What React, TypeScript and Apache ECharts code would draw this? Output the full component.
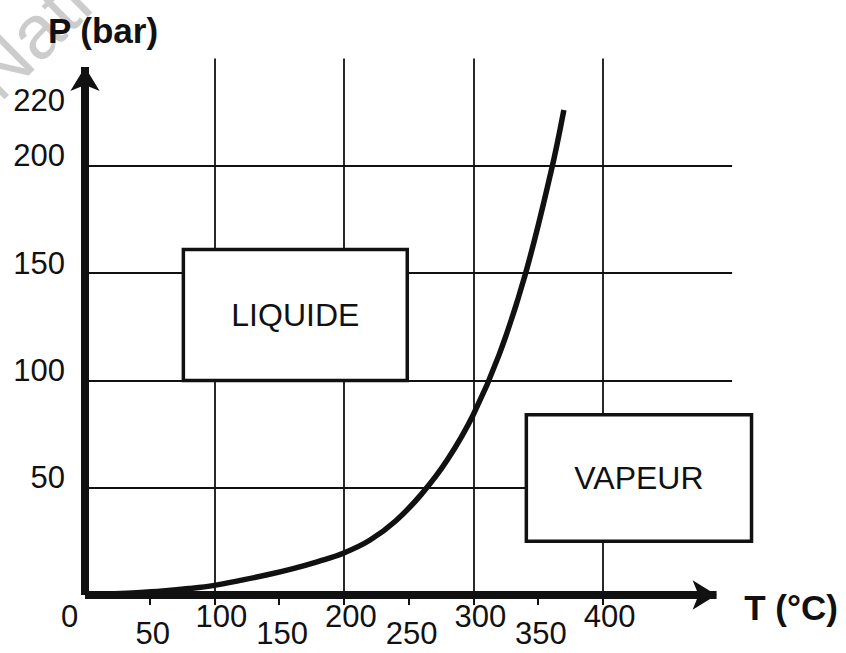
import React, { useEffect, useRef } from 'react';
import * as echarts from 'echarts';

// Saturation curve of water
const temperatures = [0, 20, 40, 60, 80, 100, 120, 140, 160, 180, 200, 220, 240, 260, 280, 300, 320, 340, 360, 370];
const pressures = [0, 0.5, 1.1, 1.9, 3.0, 4.5, 6.8, 9.3, 12.2, 15.6, 19.6, 25.5, 34.5, 47, 63, 84, 112, 149, 197, 226];

// Tick labels (upper row / lower row on the T axis)
const xUpperLabels = [0, 100, 200, 300, 400];
const xLowerLabels = [50, 150, 250, 350];
const yTickLabels = [50, 100, 150, 200, 220];

// Grid lines (values)
const xGridValues = [100, 200, 300, 400];
const yGridValues = [50, 100, 150, 200];

// Phase regions
const regionNames = ['LIQUIDE', 'VAPEUR'];
const regionT = [[76, 249], [341, 515]];
const regionP = [[100, 161], [25, 84]];

const FONT = '"Liberation Sans", Arial, Helvetica, sans-serif';
const INK = '#111';

export default function App() {
  const ref = useRef<HTMLDivElement>(null);

  useEffect(() => {
    if (!ref.current) return;
    const chart = echarts.init(ref.current, null, { renderer: 'svg' });

    const gridLines: any[] = [];
    xGridValues.forEach((v) => gridLines.push([{ coord: [v, 0] }, { coord: [v, 250] }]));
    yGridValues.forEach((v) => gridLines.push([{ coord: [0, v] }, { coord: [500, v] }]));

    const areas = regionNames.map((n, i) => [
      { name: n, coord: [regionT[i][0], regionP[i][1]] },
      { coord: [regionT[i][1], regionP[i][0]] },
    ]);

    const textBase = { fontFamily: FONT, fontSize: 31, color: INK };
    const allTicks = [...xUpperLabels, ...xLowerLabels].filter((v) => v > 0).sort((a, b) => a - b);

    const option: any = {
      animation: false,
      backgroundColor: '#fff',
      grid: { left: 85, right: 88, top: 37, bottom: 58, containLabel: false },
      xAxis: [
        {
          type: 'value',
          min: 0,
          max: 520,
          axisLine: { show: false },
          splitLine: { show: false },
          axisTick: {
            show: true,
            customValues: allTicks,
            length: 10,
            lineStyle: { color: INK, width: 2 },
          },
          axisLabel: {
            customValues: xUpperLabels,
            margin: 6,
            ...textBase,
            formatter: (v: number) => (v === 0 ? '{z|0}' : `{h|${v}}`),
            rich: {
              z: { ...textBase, padding: [0, 31, 0, 0] },
              h: { ...textBase, padding: [0, 0, 0, 14] },
            },
          },
        },
        {
          type: 'value',
          min: 0,
          max: 520,
          position: 'bottom',
          axisLine: { show: false },
          splitLine: { show: false },
          axisTick: { show: false },
          axisLabel: {
            customValues: xLowerLabels,
            margin: 26,
            ...textBase,
            lineHeight: 24,
            padding: [0, 0, 0, 6],
          },
        },
      ],
      yAxis: {
        type: 'value',
        min: 0,
        max: 260,
        axisLine: { show: false },
        splitLine: { show: false },
        axisTick: { show: false },
        axisLabel: {
          customValues: yTickLabels,
          margin: 20,
          ...textBase,
          verticalAlign: 'bottom',
          formatter: (v: number) => (v === 220 ? `{t|${v}}` : `{n|${v}}`),
          rich: {
            n: { ...textBase, lineHeight: 20, padding: [0, 0, 0, 0] },
            t: { ...textBase, lineHeight: 20, padding: [0, 0, 24, 0] },
          },
        },
      },
      graphic: [
        {
          type: 'text',
          x: 8,
          y: 112,
          rotation: 0.78,
          z: -1,
          style: {
            text: 'Nati',
            fontFamily: '"Liberation Sans", Arial, sans-serif',
            fontSize: 76,
            fontWeight: 'normal',
            fill: '#cccccc',
            align: 'left',
            verticalAlign: 'bottom',
          },
        },
        {
          type: 'text',
          x: 103,
          y: 30,
          style: {
            text: 'P (bar)',
            fontFamily: FONT,
            fontSize: 35,
            fontWeight: 'bold',
            fill: INK,
            align: 'center',
            verticalAlign: 'middle',
          },
        },
        {
          type: 'text',
          x: 791,
          y: 607,
          style: {
            text: 'T (°C)',
            fontFamily: FONT,
            fontSize: 35,
            fontWeight: 'bold',
            fill: INK,
            align: 'center',
            verticalAlign: 'middle',
          },
        },
      ],
      series: [
        {
          type: 'line',
          data: [],
          silent: true,
          markLine: {
            z: 1,
            silent: true,
            symbol: ['none', 'none'],
            label: { show: false },
            lineStyle: { color: INK, width: 1.8, type: 'solid' },
            emphasis: { disabled: true },
            data: gridLines,
          },
        },
        {
          type: 'line',
          data: [],
          silent: true,
          markArea: {
            z: 2,
            silent: true,
            itemStyle: { color: '#fff', borderColor: INK, borderWidth: 3.5 },
            label: {
              show: true,
              position: 'inside',
              color: INK,
              fontFamily: FONT,
              fontSize: 32,
            },
            emphasis: { disabled: true },
            data: areas,
          },
        },
        {
          type: 'line',
          z: 3,
          silent: true,
          smooth: 0.4,
          showSymbol: false,
          lineStyle: { color: INK, width: 5.5 },
          data: temperatures.map((t, i) => [t, pressures[i]]),
        },
        {
          type: 'line',
          data: [],
          silent: true,
          markLine: {
            z: 6,
            silent: true,
            symbol: ['none', 'arrow'],
            symbolSize: [22, 24],
            label: { show: false },
            lineStyle: { color: INK, width: 8, type: 'solid' },
            emphasis: { disabled: true },
            data: [
              [{ coord: [0, 0] }, { coord: [488, 0] }],
              [{ coord: [0, 0] }, { coord: [0, 246] }],
            ],
          },
        },
      ],
    };

    chart.setOption(option);
    return () => chart.dispose();
  }, []);

  return (
    <div
      ref={ref}
      style={{ position: 'fixed', left: 0, top: 0, width: 846, height: 653, background: '#fff' }}
    />
  );
}
